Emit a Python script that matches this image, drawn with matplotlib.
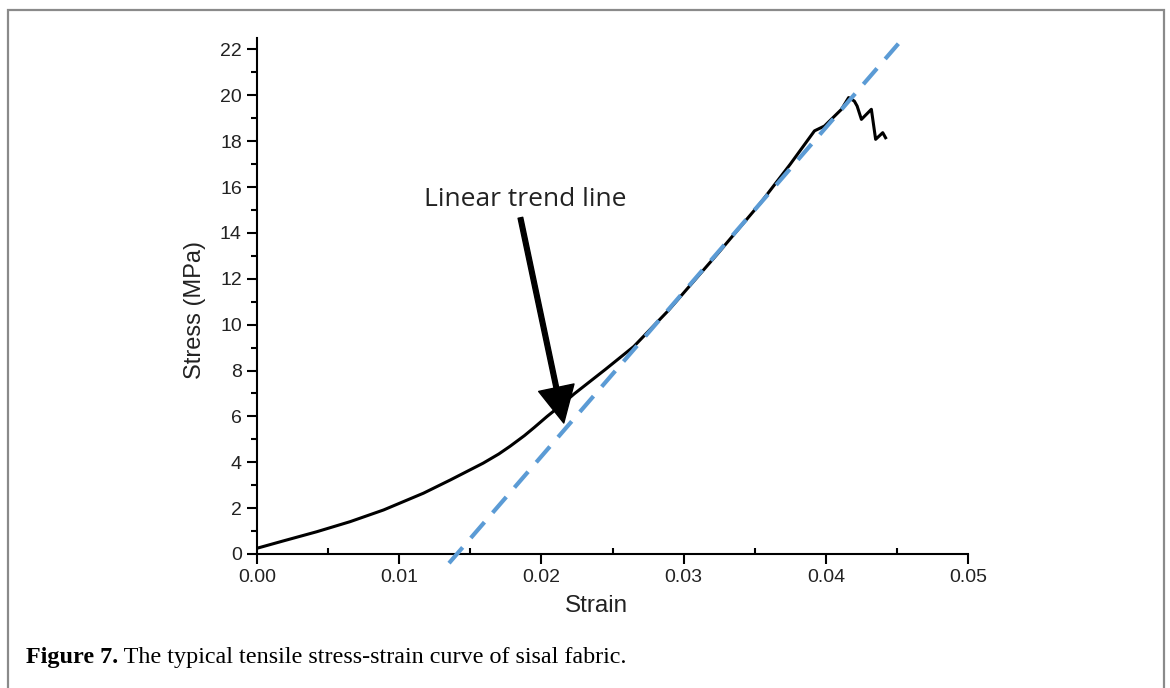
import matplotlib.pyplot as plt
from matplotlib.patches import Rectangle
from matplotlib.ticker import MultipleLocator, FormatStrFormatter

# stress-strain curve
strain = [0.0, 0.00185, 0.0042, 0.00655, 0.0089, 0.0117, 0.0136, 0.0159,
          0.0170, 0.0178, 0.0188, 0.0195, 0.0204, 0.0214, 0.0223, 0.0245,
          0.0265, 0.0289, 0.0324, 0.0354, 0.0375, 0.0392, 0.0399, 0.0411,
          0.0416, 0.0420, 0.0422, 0.0425, 0.0432, 0.0435, 0.0440, 0.0442]
stress = [0.25, 0.57, 0.97, 1.41, 1.92, 2.65, 3.23, 3.96,
          4.36, 4.70, 5.16, 5.52, 6.0, 6.5, 6.98, 8.05,
          9.05, 10.6, 13.1, 15.3, 17.0, 18.45, 18.66, 19.39,
          19.9, 19.75, 19.53, 18.95, 19.39, 18.08, 18.37, 18.15]

# linear trend line end points
trend_x = [0.0135, 0.0451]
trend_y = [-0.4, 22.25]

x_ticks = [0.0, 0.01, 0.02, 0.03, 0.04, 0.05]
y_ticks = list(range(0, 23, 2))

caption_bold = "Figure 7."
caption_rest = " The typical tensile stress-strain curve of sisal fabric."

plt.rcParams['font.family'] = ['Liberation Sans', 'DejaVu Sans']

fig = plt.figure(figsize=(11.7, 6.88), dpi=100)
ax = fig.add_axes([0.2197, 0.1948, 0.6077, 0.75])

ax.plot(strain, stress, color='black', lw=2.2, zorder=3)
ax.plot(trend_x, trend_y, color='#5b9bd5', lw=3, dashes=(5, 3),
        clip_on=False, zorder=4)

ax.set_xlim(0, 0.05)
ax.set_ylim(0, 22.5)
ax.set_xticks(x_ticks)
ax.set_yticks(y_ticks)
ax.xaxis.set_major_formatter(FormatStrFormatter('%.2f'))
ax.xaxis.set_minor_locator(MultipleLocator(0.005))
ax.yaxis.set_minor_locator(MultipleLocator(1))

for s in ['top', 'right']:
    ax.spines[s].set_visible(False)
for s in ['left', 'bottom']:
    ax.spines[s].set_linewidth(1.5)

ax.tick_params(axis='both', which='major', direction='out', length=7,
               width=1.5, labelsize=14, labelcolor='#222222', pad=4)
ax.tick_params(axis='y', which='minor', direction='out', length=4, width=1.5)
ax.tick_params(axis='x', which='minor', direction='in', length=4.5, width=1.5)

ax.set_xlabel('Strain', fontsize=17.5, color='#222222', va='center')
ax.set_ylabel('Stress (MPa)', fontsize=17, color='#222222', va='center')
ax.xaxis.set_label_coords(0.477, -0.1)
ax.yaxis.set_label_coords(-0.087, 0.473)

ax.text(0.01887, 15.45, 'Linear trend line', fontsize=19, family='Open Sans',
        color='#222222', ha='center', va='center')
ax.annotate('', xy=(0.02157, 5.71), xytext=(0.01852, 14.66),
            arrowprops=dict(facecolor='black', edgecolor='black', width=3.4,
                            headwidth=26, headlength=26, shrink=0))

# figure frame and caption
fig.patches.append(Rectangle((8 / 1170, -0.1), 1156 / 1170, 1 + 0.1 - 10 / 688,
                             transform=fig.transFigure, fill=False,
                             edgecolor='#8a8a8a', lw=1.6))
t1 = fig.text(26 / 1170, 1 - 657 / 688, caption_bold, fontsize=17.4,
              family='Liberation Serif', weight='bold', va='center')
ax.annotate(caption_rest, xy=(1, 0), xycoords=t1, va='bottom',
            fontsize=17.4, family='Liberation Serif', annotation_clip=False)

fig.savefig('out.png', dpi=100)
